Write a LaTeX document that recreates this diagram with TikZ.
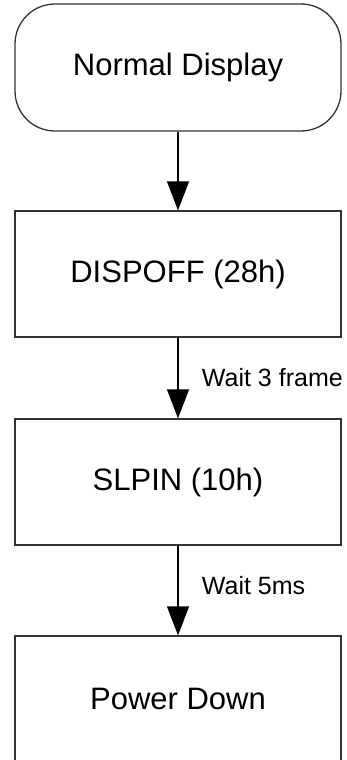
\documentclass[tikz,border=0pt]{standalone}
\usepackage{fontspec}
\setmainfont{Liberation Sans}
\usetikzlibrary{arrows.meta}

\begin{document}
\begin{tikzpicture}[x=1pt,y=-1pt]
\useasboundingbox (0,0) rectangle (346,760);
\tikzstyle{cmdbox} = [draw=black!80, line width=1.3pt, minimum width=326pt, minimum height=126pt, font=\fontsize{31}{36}\selectfont];
\tikzstyle{start} = [cmdbox, rounded corners=40pt, minimum height=127pt];
\tikzstyle{wait} = [anchor=west, xshift=20pt, font=\fontsize{25}{30}\selectfont];
\tikzstyle{flow} = [line width=1.3pt, -{Triangle[length=29pt,width=22pt]}];
\node[start] (normal) at (178, 67.5) {Normal Display};
\node[cmdbox] (dispoff) at (178, 274) {DISPOFF (28h)};
\node[cmdbox] (slpin) at (178, 482) {SLPIN (10h)};
\node[cmdbox] (pwrdown) at (178, 699) {Power Down};
\draw[flow] (normal) -- (dispoff);
\draw[flow] (dispoff) -- node[wait] {Wait 3 frame} (slpin);
%
\draw[flow] (slpin) -- node[wait, yshift=5pt] {Wait 5ms} (pwrdown);
\end{tikzpicture}
\end{document}
